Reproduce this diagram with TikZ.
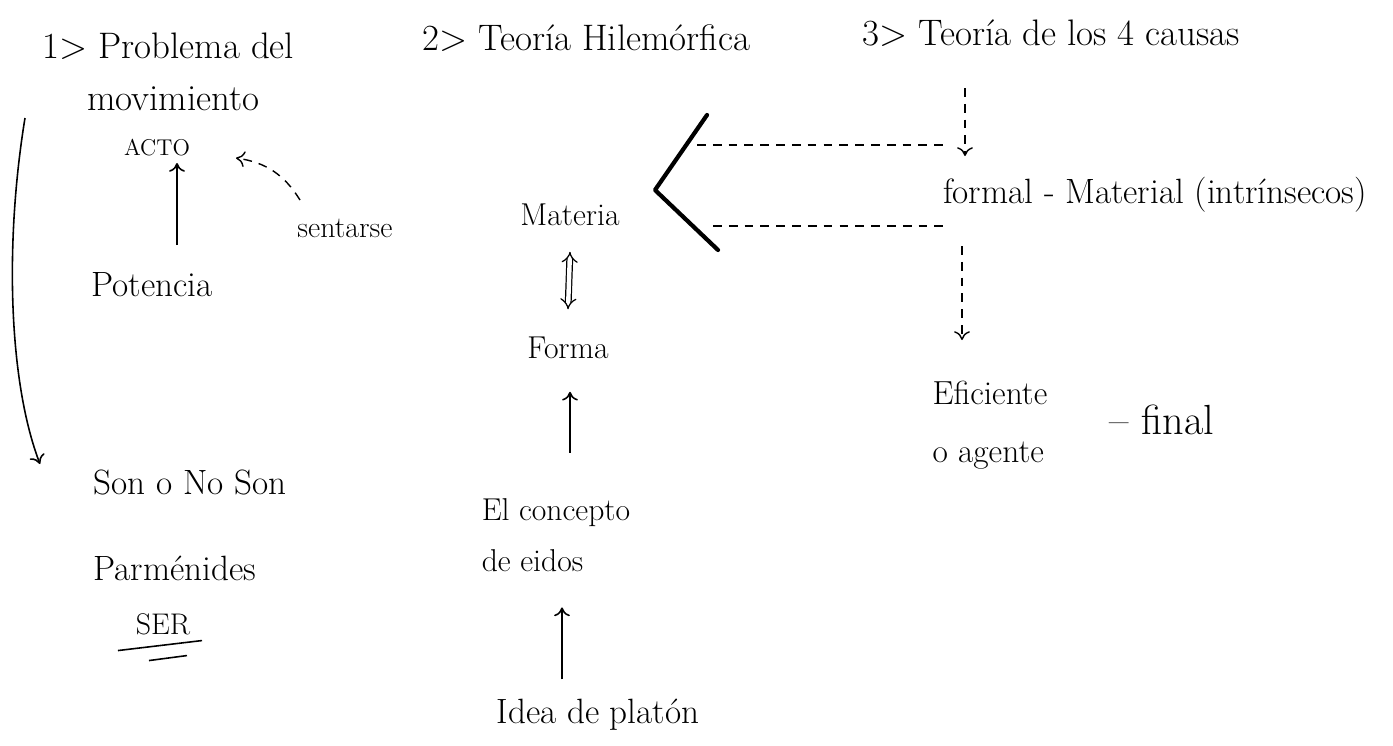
\documentclass[tikz,border=0pt]{standalone}
\usepackage{tikz}
\usetikzlibrary{arrows.meta,calc,positioning}
\begin{document}
\begin{tikzpicture}[x=0.02cm, y=-0.02cm,
  ttl/.style={font=\fontsize{21}{25}\selectfont, inner sep=1pt, anchor=base west},
  word/.style={font=\fontsize{20}{28}\selectfont, inner sep=2pt, align=left},
  small/.style={font=\fontsize{13}{16}\selectfont, inner sep=2pt},
  arr/.style={-{To[length=5pt,width=9pt]}, line width=0.9pt},
  dsh/.style={dash pattern=on 5pt off 4pt, line width=0.8pt}]
\useasboundingbox (0,0) rectangle (1393,745);

% titulos
\node[ttl] (t1) at (40,58) {1> Problema del};
\node[ttl] (t1b) at (85,110) {movimiento};
\node[ttl] (t2) at (420,50) {2> Teoría Hilemórfica};
\node[ttl] (t3) at (860,45) {3> Teoría de los 4 causas};

% columna 1
\node[small] (acto) at (157,148) {ACTO};
\node[small, font=\fontsize{17}{20}\selectfont] (sen) at (345,228) {sentarse};
\node[word] (pot) at (152,285) {Potencia};
\node[word] (son) at (190,482) {Son o No Son};
\node[word] (par) at (175,568) {Parménides};
\node[small, font=\fontsize{17}{20}\selectfont] (ser) at (163,624) {SER};
\coordinate (p0) at (177,245);
\coordinate (a0) at (177,163);
\coordinate (s0) at (300,200);
\coordinate (s1) at (236,158);
\coordinate (c0) at (25,118);
\coordinate (c1) at (40,464);

\draw[arr] (p0) -- (a0);
\draw[arr, dsh] (s0) to[bend right=25] (s1);
\draw[arr] (c0) .. controls (5,240) and (8,380) .. (c1);
\draw[line width=0.9pt] ($(ser.south west)+(-14,12)$) -- ($(ser.south east)+(8,2)$);
\draw[line width=0.9pt] ($(ser.south)+(-14,22)$) -- ($(ser.south)+(24,17)$);

% columna 2
\node[word, font=\fontsize{18}{20}\selectfont] (mat) at (570,215) {Materia};
\node[word, font=\fontsize{18}{20}\selectfont] (forma) at (568,348) {Forma};
\node[word, font=\fontsize{18}{29}\selectfont] (eidos) at (556,535) {El concepto\\de eidos};
\node[word] (idea) at (598,715) {Idea de platón};

\draw[double, double distance=2.5pt, line width=0.7pt, {Implies}-{Implies}]
  ($(mat.south)+(0,22)$) -- ($(forma.north)+(0,-24)$);
\draw[arr] ($(eidos.north)+(14,-42)$) -- ($(forma.south)+(2,29)$);
\draw[arr] ($(idea.north)+(-36,-16)$) -- ($(eidos.south)+(6,32)$);

% llave
\coordinate (b1) at (707,115);
\coordinate (b2) at (655,190);
\coordinate (b3) at (718,250);
\draw[line width=2.4pt, line cap=round, line join=round] (b1) -- (b2) -- (b3);
\coordinate (d1) at (697,145);
\coordinate (d2) at (948,145);
\coordinate (d3) at (713,226);
\coordinate (d4) at (948,226);
\draw[dsh] (d1) -- (d2);
\draw[dsh] (d3) -- (d4);

% columna 3
\node[word] (fm) at (1155,195) {formal - Material (intrínsecos)};
\node[word, font=\fontsize{19}{33}\selectfont] (efi) at (990,425) {Eficiente\\o agente};
\node[word, font=\fontsize{24}{28}\selectfont] (fin) at (1162,420) {-- final};
\coordinate (v0) at (965,88);
\coordinate (v1) at (965,156);
\coordinate (v2) at (962,246);
\coordinate (v3) at (962,340);
\draw[arr, dsh] (v0) -- (v1);
\draw[arr, dsh] (v2) -- (v3);
\end{tikzpicture}
\end{document}
